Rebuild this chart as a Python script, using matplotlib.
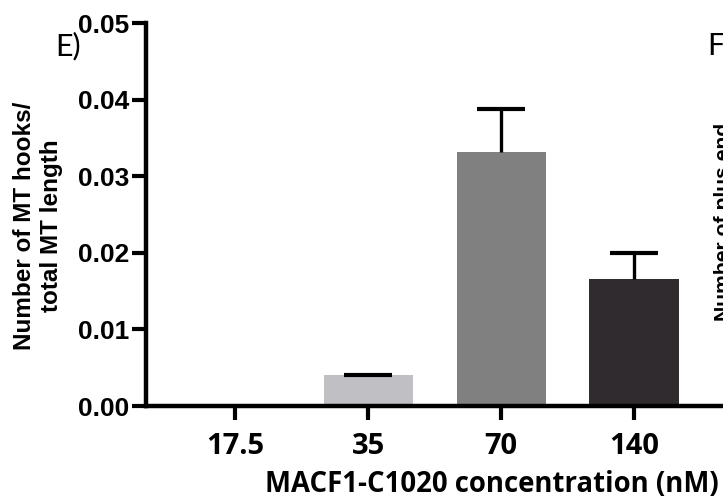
import numpy as np
import matplotlib
matplotlib.use('Agg')
import matplotlib.pyplot as plt
from matplotlib.ticker import FormatStrFormatter

# data
conc_labels = ['17.5', '35', '70', '140']
hooks_mean = [0.0, 0.0040, 0.0332, 0.0166]
hooks_err = [0.0, 0.0001, 0.0056, 0.0034]
bar_colors = ['#c0bfc4', '#c0bfc4', '#808080', '#2f2b2e']

fig = plt.figure(figsize=(7.23, 5.03), dpi=100)
# axes runs off the right edge of the picture like the cropped panel
ax = fig.add_axes([146/723, 97/503, (780-146)/723, (406-23.3)/503])

x = np.arange(len(conc_labels))
ax.bar(x, hooks_mean, width=0.67, color=bar_colors, edgecolor='none', zorder=2)

# only the upper half of the error bar, as GraphPad draws it
mask = np.array(hooks_mean) > 0
eb = ax.errorbar(x[mask], np.array(hooks_mean)[mask],
                 yerr=[np.zeros(mask.sum()), np.array(hooks_err)[mask]],
                 fmt='none', ecolor='black', elinewidth=2.4, capsize=17,
                 capthick=3, zorder=3)
eb[1][0].set_visible(False)  # lower caps

ax.set_xlim(-0.67, (780-235)/133)
ax.set_ylim(0, 0.05)
ax.set_yticks([0, 0.01, 0.02, 0.03, 0.04, 0.05])
ax.yaxis.set_major_formatter(FormatStrFormatter('%.2f'))
ax.set_xticks(x)
ax.set_xticklabels(conc_labels)

for s in ['top', 'right']:
    ax.spines[s].set_visible(False)
for s in ['left', 'bottom']:
    ax.spines[s].set_linewidth(3.2)
    ax.spines[s].set_capstyle('projecting')

ax.tick_params(axis='y', length=10, width=3, pad=2)
ax.tick_params(axis='x', length=10, width=3, pad=9)
for lab in ax.get_yticklabels():
    lab.set_fontfamily('Liberation Sans')
    lab.set_fontweight('bold')
    lab.set_fontsize(19)
for lab in ax.get_xticklabels():
    lab.set_fontfamily('Open Sans')
    lab.set_fontweight('bold')
    lab.set_fontsize(21)

fig.text(492/723, 1 - 484/503, 'MACF1-C1020 concentration (nM)',
         fontfamily='Open Sans', fontweight='bold', fontsize=19.8,
         ha='center', va='center')

fig.text(38/723, 1 - 226/503, 'Number of MT hooks/\ntotal MT length',
         fontfamily='Liberation Sans', fontweight='bold', fontsize=17.5,
         rotation=90, ha='center', va='center', multialignment='center',
         linespacing=1.2)

fig.text(68/723, 1 - 46/503, 'E)', fontfamily='Lato', fontsize=22,
         ha='center', va='center')
fig.text(707/723, 1 - 45/503, 'F)', fontfamily='Lato', fontsize=22,
         ha='left', va='center')
# next panel's axis title, cut by the picture edge as in the reference
fig.text(729/723, 1 - 123/503, 'Number of plus end',
         fontfamily='Liberation Sans', fontweight='bold', fontsize=15.2,
         rotation=90, rotation_mode='anchor', ha='right', va='baseline')

fig.savefig('out.png', dpi=100)
